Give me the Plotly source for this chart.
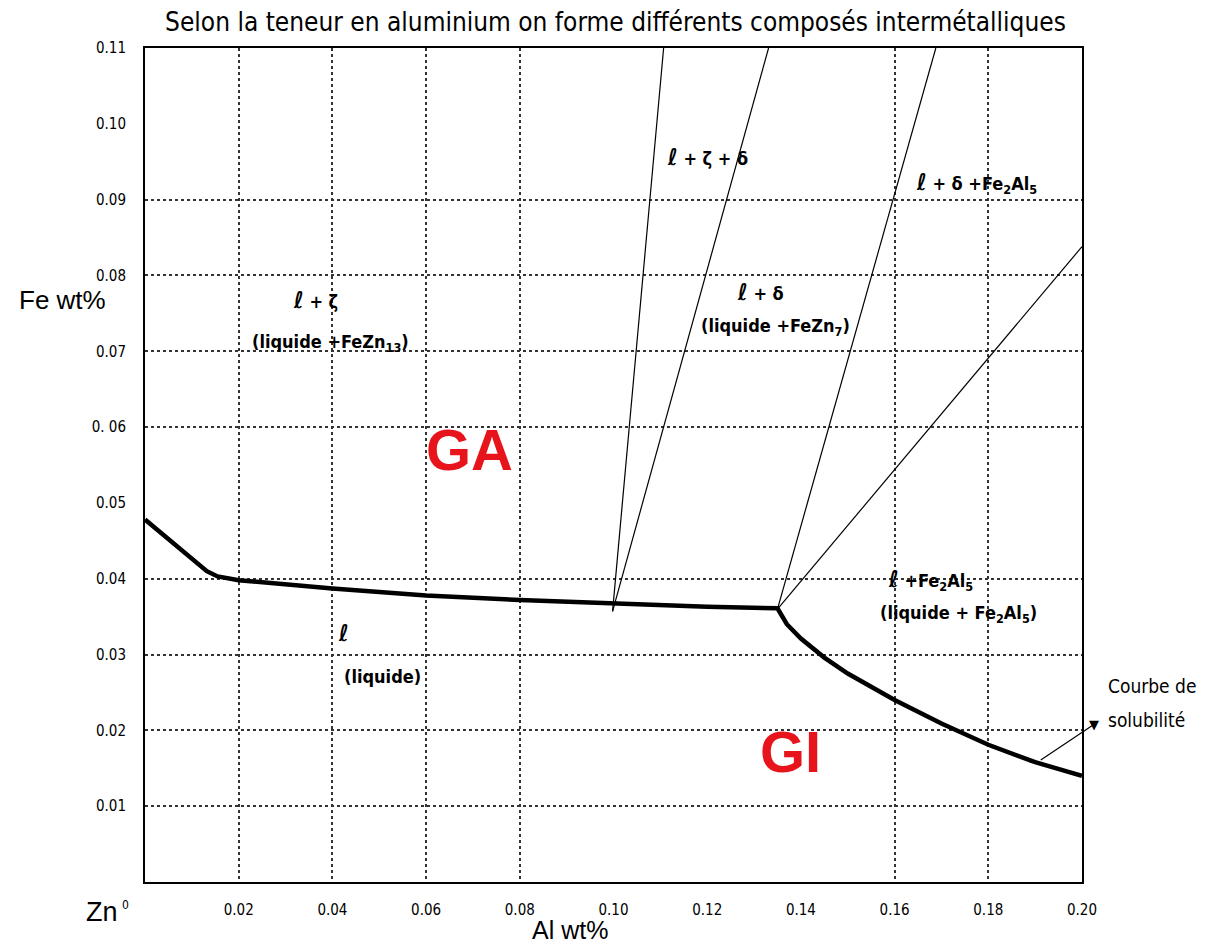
import plotly.graph_objects as go

# Solubility curve (thick)
sol_al = [0.0, 0.006, 0.0132, 0.0155, 0.02, 0.04, 0.06, 0.08, 0.10, 0.12, 0.135, 0.137, 0.14, 0.145, 0.15, 0.155, 0.16, 0.17, 0.18, 0.19, 0.20]
sol_fe = [0.0478, 0.0447, 0.0410, 0.0403, 0.0398, 0.0387, 0.0378, 0.0372, 0.0367, 0.0363, 0.0361, 0.0340, 0.0321, 0.0296, 0.0275, 0.0257, 0.0240, 0.0209, 0.0181, 0.0158, 0.0140]

# Thin phase boundary lines
b1_al = [0.0998, 0.1107]
b1_fe = [0.0357, 0.11]
b2_al = [0.0998, 0.1331]
b2_fe = [0.0357, 0.11]
b3_al = [0.1350, 0.1688]
b3_fe = [0.0360, 0.11]
b4_al = [0.1350, 0.2000]
b4_fe = [0.0360, 0.0838]

# Arrow "Courbe de solubilité"
arrow_al = [0.1912, 0.2026]
arrow_fe = [0.0161, 0.0208]

X_MAX = 0.20
Y_MAX = 0.11

x_ticks = [0.02, 0.04, 0.06, 0.08, 0.10, 0.12, 0.14, 0.16, 0.18, 0.20]
x_tick_text = ["0.02", "0.04", "0.06", "0.08", "0.10", "0.12", "0.14", "0.16", "0.18", "0.20"]
x_grid = [0.02, 0.04, 0.06, 0.08, 0.16, 0.18]
y_ticks = [0.01, 0.02, 0.03, 0.04, 0.05, 0.06, 0.07, 0.08, 0.09, 0.10, 0.11]
y_tick_text = ["0.01", "0.02", "0.03", "0.04", "0.05", "0. 06", "0.07", "0.08", "0.09", "0.10", "0.11"]
y_grid = [0.01, 0.02, 0.03, 0.04, 0.06, 0.07, 0.08, 0.09]

FONT = "DejaVu Sans Condensed, Liberation Sans Narrow, sans-serif"
ARIAL = "Liberation Sans, Arial, sans-serif"
RED = "#e8141b"

fig = go.Figure()

# grid-only overlay axes
fig.add_trace(go.Scatter(x=[None], y=[None], xaxis="x2", yaxis="y2", showlegend=False, hoverinfo="skip"))

for xs, ys in [(b1_al, b1_fe), (b2_al, b2_fe), (b3_al, b3_fe), (b4_al, b4_fe)]:
    fig.add_trace(go.Scatter(x=xs, y=ys, mode="lines", line=dict(color="black", width=1.2),
                             showlegend=False, hoverinfo="skip"))

fig.add_trace(go.Scatter(x=sol_al, y=sol_fe, mode="lines", line=dict(color="black", width=4.5),
                         showlegend=False, hoverinfo="skip"))

# arrow (paper coords so it may leave the plot area)
ax_p = [a / X_MAX for a in arrow_al]
ay_p = [f / Y_MAX for f in arrow_fe]
fig.add_shape(type="line", xref="paper", yref="paper", x0=ax_p[0], y0=ay_p[0], x1=ax_p[1], y1=ay_p[1],
              line=dict(color="black", width=1.2))
fig.add_annotation(x=ax_p[1], y=ay_p[1], xref="paper", yref="paper", text="▼", showarrow=False,
                   font=dict(family="DejaVu Sans", size=13, color="black"), xanchor="center", yanchor="middle")


def lab(x, y, text, size=18, color="black", ref="data", family=FONT):
    xr, yr = ("x", "y") if ref == "data" else ("paper", "paper")
    fig.add_annotation(x=x, y=y, xref=xr, yref=yr, text=text, showarrow=False,
                       font=dict(family=family, size=size, color=color), xanchor="center", yanchor="middle")


L = "<b><i><span style='font-size:23px'>ℓ</span></i></b>"
lab(0.0363, 0.0768, L + "<b> + ζ</b>")
lab(0.0395, 0.0711, "<b>(liquide +FeZn<sub>13</sub>)</b>")
lab(0.1201, 0.0956, L + "<b> + ζ + δ</b>")
lab(0.1774, 0.0922, L + "<b> + δ +Fe<sub>2</sub>Al<sub>5</sub></b>")
lab(0.1314, 0.0778, L + "<b> + δ</b>")
lab(0.1346, 0.0732, "<b>(liquide +FeZn<sub>7</sub>)</b>")
lab(0.1677, 0.0398, L + "<b> +Fe<sub>2</sub>Al<sub>5</sub></b>")
lab(0.1737, 0.0354, "<b>(liquide + Fe<sub>2</sub>Al<sub>5</sub>)</b>")
lab(0.0423, 0.0328, L)
lab(0.0506, 0.0271, "<b>(liquide)</b>")
lab(0.0692, 0.0570, "<b>GA</b>", size=58, color=RED, family=ARIAL)
lab(0.1378, 0.0172, "<b>GI</b>", size=58, color=RED, family=ARIAL)

# outside annotations (paper coords)
lab((1152 - 145) / 937, (882 - 686) / 834, "Courbe de", size=19, ref="paper")
lab((1146 - 145) / 937, (882 - 720) / 834, "solubilité", size=19, ref="paper")
lab((62 - 145) / 937, (882 - 300) / 834, "Fe wt%", size=26, ref="paper", family=ARIAL)
lab((570 - 145) / 937, (882 - 930) / 834, "Al wt%", size=25, ref="paper", family=ARIAL)
lab((102 - 145) / 937, (882 - 912) / 834, "Zn", size=27, ref="paper", family=ARIAL)
lab((125 - 145) / 937, (882 - 905) / 834, "0", size=12, ref="paper")

fig.update_layout(
    width=1214, height=946,
    margin=dict(l=145, r=132, t=48, b=64),
    paper_bgcolor="white", plot_bgcolor="white",
    title=dict(text="Selon la teneur en aluminium on forme différents composés intermétalliques",
               x=0.507, xanchor="center", y=0.977, yanchor="middle",
               font=dict(family=FONT, size=26, color="black")),
    font=dict(family=FONT, color="black"),
    xaxis=dict(range=[0, X_MAX], tickvals=x_ticks, ticktext=x_tick_text, showgrid=False,
               zeroline=False, showline=True, linecolor="black", linewidth=2, mirror=True,
               ticks="", tickfont=dict(size=15, family=FONT), ticklabelstandoff=13),
    yaxis=dict(range=[0, Y_MAX], tickvals=y_ticks, ticktext=y_tick_text, showgrid=False,
               zeroline=False, showline=True, linecolor="black", linewidth=2, mirror=True,
               ticks="", tickfont=dict(size=15, family=FONT), ticklabelstandoff=14),
    xaxis2=dict(range=[0, X_MAX], overlaying="x", tickvals=x_grid, showticklabels=False, showgrid=True,
                gridcolor="#333", griddash="dot", gridwidth=1.5, zeroline=False, showline=False),
    yaxis2=dict(range=[0, Y_MAX], overlaying="y", tickvals=y_grid, showticklabels=False, showgrid=True,
                gridcolor="#333", griddash="dot", gridwidth=1.5, zeroline=False, showline=False),
)

fig.write_html("out.html")
